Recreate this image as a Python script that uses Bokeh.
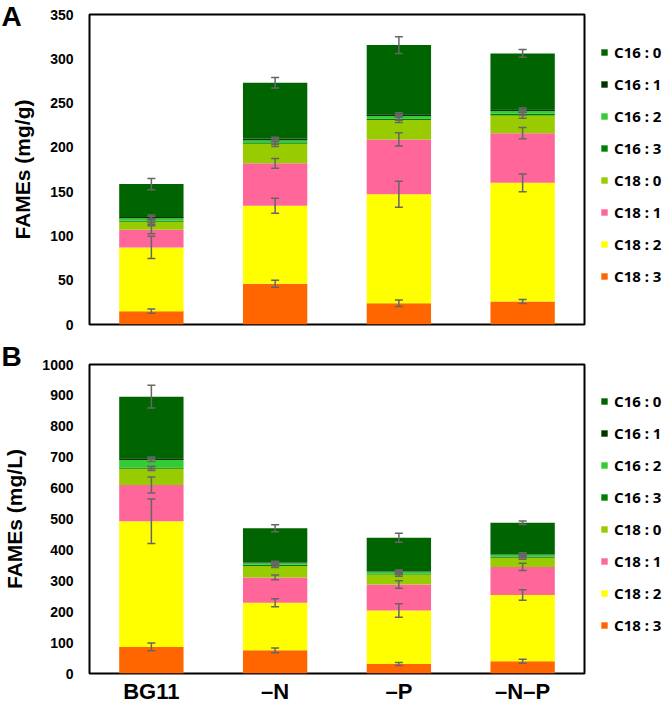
from bokeh.plotting import figure
from bokeh.models import (ColumnDataSource, FactorRange, Range1d, FixedTicker,
                          Whisker, TeeHead, Legend, LegendItem, Label)
from bokeh.layouts import column
from bokeh.embed import file_html
from bokeh.resources import INLINE

categories = ["BG11", "\u2013N", "\u2013P", "\u2013N\u2013P"]
series = ["C18 : 3", "C18 : 2", "C18 : 1", "C18 : 0",
          "C16 : 3", "C16 : 2", "C16 : 1", "C16 : 0"]
colors = ["#FF6600", "#FFFF00", "#FF6699", "#99CC00",
          "#008000", "#33CC33", "#003300", "#006400"]

# Panel A: FAMEs (mg/g)
a_c18_3 = [15, 46, 24, 26]
a_c18_2 = [72, 88, 123, 134]
a_c18_1 = [20, 48, 62, 56]
a_c18_0 = [9, 22, 22, 20]
a_c16_3 = [1, 1, 1.5, 2]
a_c16_2 = [3, 3, 3, 3]
a_c16_1 = [1.5, 2, 2, 2]
a_c16_0 = [37, 63, 78, 63]

a_err_c18_3 = [2.4, 4, 3.6, 2.3]
a_err_c18_2 = [12.5, 8.5, 14.7, 10]
a_err_c18_1 = [4.5, 5.5, 7.5, 6.4]
a_err_c18_0 = [3, 3, 3, 3]
a_err_c16_3 = [2, 1.5, 2, 1.5]
a_err_c16_2 = [2, 1.5, 1.5, 1.5]
a_err_c16_1 = [2, 1.5, 1.5, 1.5]
a_err_c16_0 = [6.4, 6, 9.5, 4.4]

# Panel B: FAMEs (mg/L)
b_c18_3 = [86, 75, 31, 40]
b_c18_2 = [407, 154, 173, 214]
b_c18_1 = [117, 82, 84, 91]
b_c18_0 = [53, 37, 32, 30]
b_c16_3 = [4, 4, 4, 4]
b_c16_2 = [24, 5, 5, 6]
b_c16_1 = [6, 2, 2, 2]
b_c16_0 = [199, 111, 108, 101]

b_err_c18_3 = [12.5, 7.5, 5, 6.5]
b_err_c18_2 = [72, 13, 21.6, 17]
b_err_c18_1 = [26, 8, 12, 12]
b_err_c18_0 = [6, 5, 5, 5]
b_err_c16_3 = [4, 4, 4, 4]
b_err_c16_2 = [5, 5, 5, 5]
b_err_c16_1 = [4, 4, 4, 4]
b_err_c16_0 = [36.5, 11, 14.5, 5.5]

a_vals = [a_c18_3, a_c18_2, a_c18_1, a_c18_0, a_c16_3, a_c16_2, a_c16_1, a_c16_0]
a_errs = [a_err_c18_3, a_err_c18_2, a_err_c18_1, a_err_c18_0,
          a_err_c16_3, a_err_c16_2, a_err_c16_1, a_err_c16_0]
b_vals = [b_c18_3, b_c18_2, b_c18_1, b_c18_0, b_c16_3, b_c16_2, b_c16_1, b_c16_0]
b_errs = [b_err_c18_3, b_err_c18_2, b_err_c18_1, b_err_c18_0,
          b_err_c16_3, b_err_c16_2, b_err_c16_1, b_err_c16_0]

TICK_FONT = "Liberation Sans"


def make_panel(vals, errs, ymax, ystep, ylabel, letter, show_x,
               frame_h, top, bottom, legend_y):
    keys = ["s%d" % i for i in range(len(series))]
    data = {"cat": categories}
    for k, v in zip(keys, vals):
        data[k] = v
    src = ColumnDataSource(data)

    p = figure(x_range=FactorRange(*categories, range_padding=0),
               y_range=Range1d(0, ymax), frame_width=495, frame_height=frame_h,
               min_border_left=87, min_border_right=60,
               min_border_top=top, min_border_bottom=bottom,
               output_backend="svg", toolbar_location=None)
    renderers = p.vbar_stack(keys, x="cat", width=0.52, color=colors,
                             line_color=None, source=src)

    # error bars at the top of each stacked segment
    base, upper, lower = [], [], []
    for j, c in enumerate(categories):
        cum = 0
        for i in range(len(series)):
            cum += vals[i][j]
            e = errs[i][j]
            base.append(c)
            upper.append(cum + e)
            lower.append(cum - e)
    wsrc = ColumnDataSource(dict(base=base, upper=upper, lower=lower))
    w = Whisker(base="base", upper="upper", lower="lower", source=wsrc,
                line_color="#666666", line_width=1.5, level="annotation",
                upper_head=TeeHead(size=8, line_color="#666666", line_width=1.5),
                lower_head=TeeHead(size=8, line_color="#666666", line_width=1.5))
    p.add_layout(w)

    p.xgrid.visible = False
    p.ygrid.visible = False
    p.outline_line_color = "black"
    p.outline_line_width = 2
    p.background_fill_color = "white"
    p.border_fill_color = "white"

    p.yaxis.ticker = FixedTicker(ticks=list(range(0, ymax + 1, ystep)))
    p.yaxis.axis_line_color = None
    p.yaxis.major_tick_out = 0
    p.yaxis.major_tick_in = 0
    p.yaxis.minor_tick_out = 0
    p.yaxis.minor_tick_in = 0
    p.yaxis.major_label_standoff = 16
    p.yaxis.major_label_text_font = TICK_FONT
    p.yaxis.major_label_text_font_style = "bold"
    p.yaxis.major_label_text_font_size = "14px"
    p.yaxis.major_label_text_color = "black"
    p.yaxis.axis_label = ylabel
    p.yaxis.axis_label_text_font = TICK_FONT
    p.yaxis.axis_label_text_font_style = "bold"
    p.yaxis.axis_label_text_font_size = "21px"
    p.yaxis.axis_label_text_color = "black"
    p.yaxis.axis_label_standoff = 13

    if show_x:
        p.xaxis.axis_line_color = None
        p.xaxis.major_tick_out = 0
        p.xaxis.major_tick_in = 0
        p.xaxis.major_label_standoff = 5
        p.xaxis.major_label_text_font = TICK_FONT
        p.xaxis.major_label_text_font_style = "bold"
        p.xaxis.major_label_text_font_size = "22px"
        p.xaxis.major_label_text_color = "black"
    else:
        p.xaxis.visible = False

    items = [LegendItem(label=series[i], renderers=[renderers[i]])
             for i in reversed(range(len(series)))]
    legend = Legend(items=items, location=(16, legend_y),
                    orientation="vertical", glyph_width=8, glyph_height=8,
                    label_height=20, spacing=12, padding=8, margin=0,
                    label_standoff=6, border_line_color=None,
                    background_fill_alpha=0,
                    label_text_font="Noto Sans", label_text_font_style="bold",
                    label_text_font_size="15px", label_text_color="black")
    p.add_layout(legend, "right")

    p.add_layout(Label(x=1, y=0, x_units="canvas", y_units="canvas",
                       text=letter, text_font=TICK_FONT, text_font_style="bold",
                       text_font_size="28px", text_baseline="top",
                       text_color="black"), "right")
    return p


pa = make_panel(a_vals, a_errs, 350, 50, "FAMEs (mg/g)", "A", False,
                frame_h=310, top=14, bottom=16, legend_y=38)
pb = make_panel(b_vals, b_errs, 1000, 100, "FAMEs (mg/L)", "B", True,
                frame_h=309, top=24, bottom=30, legend_y=38)

layout = column(pa, pb, spacing=0)
open("out.html", "w").write(file_html(layout, INLINE))
